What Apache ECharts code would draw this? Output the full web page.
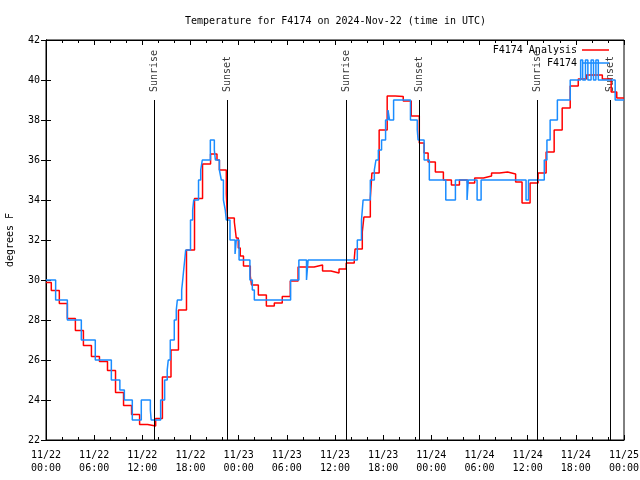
<!DOCTYPE html>
<html><head><meta charset="utf-8">
<script src="https://cdn.jsdelivr.net/npm/echarts@6/dist/echarts.min.js"></script>
<style>html,body{margin:0;padding:0;background:#fff}#c{width:640px;height:480px}</style>
</head><body><div id="c"></div>
<script>
// hours since 2024-11-22 00:00 UTC
const analysisHours = [0,0.66,1.66,2.66,3.66,4.66,5.66,6.66,7.66,8.66,9.66,10.66,11.66,12.66,13.66,14.5,15.57,16.5,17.5,18.5,19.5,20.5,21.3,21.6,22.46,22.6,23.46,23.7,23.95,24.2,24.6,25.45,25.6,26.45,27.45,28.44,29.43,30.43,31.4,33.4,34.45,35.5,36.5,37.4,38.4,38.5,39.4,39.6,40.4,40.6,41.5,42.5,43.5,44.5,45.5,46.5,47.1,47.6,48.5,49.5,50.5,51.5,52.5,53.4,54.5,55.5,56.5,57.5,58.5,59.3,60.3,61.3,62.3,63.3,64.3,65.3,66.3,67.3,69.3,70.4,71.1,72];
const analysisTemps = [29.88,29.48,28.83,28.08,27.48,26.73,26.18,25.93,25.48,24.38,23.73,23.28,22.78,22.7,23.08,25.15,26.5,28.5,31.5,34.07,35.8,36.3,36.0,35.5,34.3,33.1,32.9,32.1,31.6,31.2,30.7,30.2,29.75,29.25,28.7,28.85,29.17,29.95,30.65,30.75,30.45,30.35,30.55,30.85,31.05,31.55,32.4,33.15,34.1,35.35,37.5,39.2,39.17,38.95,38.2,36.85,36.35,35.9,35.4,35.0,34.75,35.0,34.85,35.1,35.2,35.35,35.4,35.3,34.9,33.85,34.85,35.35,36.4,37.5,38.6,39.7,40.05,40.25,40.05,39.4,39.1,39.1];
const obsHours = [0,1.2,2.66,4.4,6.14,8.14,9.2,9.76,10.75,11.87,13.0,13.1,14.28,14.78,15.1,15.23,15.48,15.98,16.23,16.36,16.9,17.03,17.15,17.28,17.4,18.0,18.27,18.4,19.0,19.27,19.47,20.47,20.97,21.1,21.6,21.84,22.1,22.33,22.46,22.92,23.55,23.7,24.05,25.4,25.7,25.95,30.47,31.5,32.45,32.65,38.78,39.3,39.5,40.4,40.9,41.1,41.4,41.8,42.3,42.6,42.8,43.3,45.4,46.25,46.35,47.1,47.75,49.8,51.0,52.45,52.6,53.7,54.2,59.8,60.1,62.07,62.4,62.8,63.7,65.3,66.6,66.85,67.2,67.5,67.9,68.2,68.5,68.8,70.9,72];
const obsTemps = [30,29,28,27,26,25,24.5,24,23,24,23.5,23,24,25,25.5,26,27,28,28.5,29,29.5,30,30.5,31,31.5,33,33.5,34,35,35.5,36,37,36.5,36,35.5,35,34,33.5,33,32,31.3,32,31,30,29.5,29,30,31,30,31,32,33,34,35,35.5,36,36.5,37,38,38.5,38,39,38,37.5,37,36,35,34,35,34,35,34,35,34,35,36,37,38,39,40,41,40,41,40,41,40,41,40,39,39];
const sunHours = [13.49,22.59,37.41,46.5,61.2,70.3];
const sunLabels = ['Sunrise','Sunset','Sunrise','Sunset','Sunrise','Sunset'];
const dayLabels = ['11/22','11/23','11/24','11/25'];

const FONT = 'DejaVu Sans Mono';
const RED = '#ff0000', BLUE = '#1a8cff';
const zip = (a,b) => a.map((v,i)=>[v,b[i]]);
const fmtX = v => dayLabels[Math.floor(v/24)] + '\n' + String(v%24).padStart(2,'0') + ':00';

const chart = echarts.init(document.getElementById('c'));
const xBase = {type:'value', min:0, max:72, interval:6,
  axisLine:{show:true, lineStyle:{color:'#000', width:1}},
  axisTick:{show:true, inside:true, length:5, lineStyle:{color:'#000'}},
  minorTick:{show:true, splitNumber:3, length:3, lineStyle:{color:'#000'}},
  splitLine:{show:false}};
const yBase = {type:'value', min:22, max:42, interval:2,
  axisLine:{show:true, lineStyle:{color:'#000', width:1}},
  axisTick:{show:true, inside:true, length:5, lineStyle:{color:'#000'}},
  splitLine:{show:false}};
chart.setOption({
  animation:false,
  title:{text:'Temperature for F4174 on 2024-Nov-22 (time in UTC)', left:180, top:11,
    textStyle:{fontFamily:FONT, fontSize:10, fontWeight:'normal', color:'#000'}},
  grid:{left:46, right:16, top:40, bottom:40, show:true, borderColor:'#000', borderWidth:1,
    containLabel:false, outerBoundsMode:'none'},
  legend:{data:[{name:'F4174 Analysis', icon:'rect', itemStyle:{color:RED}},
                {name:'F4174', icon:'rect', itemStyle:{color:BLUE}}],
    orient:'vertical', right:31, top:44, align:'right',
    itemWidth:27, itemHeight:1.5, itemGap:1, padding:0,
    textStyle:{fontFamily:FONT, fontSize:10, color:'#000', lineHeight:12}},
  xAxis:[Object.assign({}, xBase, {position:'bottom',
      axisLabel:{formatter:fmtX, fontFamily:FONT, fontSize:10, color:'#000', lineHeight:13, margin:9}}),
    Object.assign({}, xBase, {position:'top', axisLabel:{show:false}})],
  yAxis:[Object.assign({}, yBase, {position:'left', name:'degrees F', nameLocation:'middle', nameGap:31,
      nameTextStyle:{fontFamily:FONT, fontSize:10, color:'#000'},
      axisLabel:{fontFamily:FONT, fontSize:10, color:'#000', margin:6}}),
    Object.assign({}, yBase, {position:'right', axisLabel:{show:false}})],
  series:[
    {name:'sun', type:'scatter', symbolSize:0, silent:true, z:1,
      data: sunHours.map((h,i)=>({value:[h,39], name:sunLabels[i]})),
      label:{show:true, position:'top', distance:8, rotate:90, align:'left', verticalAlign:'middle',
        formatter:p=>p.name, fontFamily:FONT, fontSize:10, color:'#000'},
      markLine:{silent:true, symbol:'none', animation:false, label:{show:false},
        lineStyle:{color:'#000', width:1, type:'solid'},
        data: sunHours.map(h=>[{coord:[h,22]},{coord:[h,39]}])}},
    {name:'F4174 Analysis', type:'line', step:'end', symbol:'none', showSymbol:false, z:2,
      lineStyle:{color:RED, width:1.5}, itemStyle:{color:RED},
      data: zip(analysisHours, analysisTemps)},
    {name:'F4174', type:'line', step:'end', symbol:'none', showSymbol:false, z:3,
      lineStyle:{color:BLUE, width:1.5}, itemStyle:{color:BLUE},
      data: zip(obsHours, obsTemps)}
  ]
});
</script></body></html>
